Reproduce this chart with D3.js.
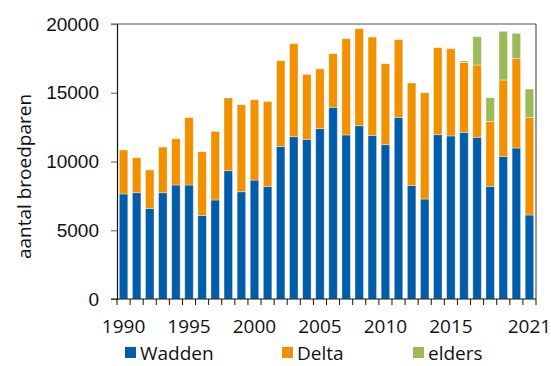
<!DOCTYPE html>
<html>
<head>
<meta charset="utf-8">
<script src="https://cdn.jsdelivr.net/npm/d3@7/dist/d3.min.js"></script>
<style>
  html, body { margin: 0; padding: 0; background: #fff; }
  svg { display: block; font-family: "Open Sans", "Noto Sans", sans-serif; }
</style>
</head>
<body>
<svg id="chart" width="551" height="366"></svg>
<script>
// Broedparen per jaar, per gebied
const years = d3.range(1990, 2022);
const wadden = [7640, 7730, 6590, 7730, 8290, 8290, 6080, 7200, 9330, 7800,
                8650, 8190, 11100, 11800, 11610, 12390, 13940, 11930, 12600, 11900,
                11220, 13210, 8260, 7270, 11950, 11860, 12120, 11760, 8190, 10370,
                10980, 6110];
const delta = [3200, 2550, 2790, 3320, 3370, 4900, 4630, 4990, 5290, 6330,
               5840, 6180, 6230, 6770, 4720, 4340, 3900, 7000, 7060, 7150,
               5890, 5650, 7450, 7730, 6330, 6340, 5090, 5260, 4730, 5560,
               6500, 7100];
const elders = [0, 0, 0, 0, 0, 0, 0, 0, 0, 0,
                0, 0, 0, 0, 0, 0, 0, 0, 0, 0,
                0, 0, 0, 0, 0, 0, 100, 2060, 1720, 3540,
                1840, 2060];
const yTicks = [0, 5000, 10000, 15000, 20000];
const xLabels = [1990, 1995, 2000, 2005, 2010, 2015, 2021];
const seriesNames = ["Wadden", "Delta", "elders"];
const colors = ["#015DAA", "#F29100", "#9CBA58"];

const W = 551, H = 366;
const m = { top: 24, right: 15, bottom: 67, left: 117 };
const FS = 19;
const svg = d3.select("#chart");

const rows = years.map((y, i) => ({ year: y, Wadden: wadden[i], Delta: delta[i], elders: elders[i] }));
const stack = d3.stack().keys(seriesNames)(rows);

const x = d3.scaleBand().domain(years).range([m.left, W - m.right]).paddingInner(0.35).paddingOuter(0.175);
const y = d3.scaleLinear().domain([0, 20000]).range([H - m.bottom, m.top]);

// frame: top and right edges
svg.append("line").attr("x1", m.left - 6).attr("x2", W - m.right)
  .attr("y1", y(20000)).attr("y2", y(20000)).attr("stroke", "#555").attr("stroke-width", 1.2);
svg.append("line").attr("x1", W - m.right).attr("x2", W - m.right)
  .attr("y1", y(20000)).attr("y2", y(0)).attr("stroke", "#555").attr("stroke-width", 1.2);

// bars
svg.append("g").selectAll("g").data(stack).join("g")
  .attr("fill", (d, i) => colors[i])
  .selectAll("rect").data(d => d.filter(p => p[1] > p[0])).join("rect")
  .attr("x", d => x(d.data.year))
  .attr("width", x.bandwidth())
  .attr("y", d => y(d[1]))
  .attr("height", d => y(d[0]) - y(d[1]))
  .attr("stroke", "rgba(255,255,255,0.45)")
  .attr("stroke-width", 0.8);

// y axis
const yAxis = svg.append("g").attr("transform", `translate(${m.left},0)`)
  .call(d3.axisLeft(y).tickValues(yTicks).tickSize(6).tickPadding(12).tickFormat(d3.format("d")));
yAxis.select(".domain").attr("stroke", "#111").attr("stroke-width", 1.2);
yAxis.selectAll(".tick line").attr("stroke", "#777").attr("stroke-width", 1.2);
yAxis.selectAll("text").attr("font-size", FS).attr("fill", "#111");

// x axis: ticks on category boundaries
const xg = svg.append("g").attr("transform", `translate(0,${y(0)})`);
xg.append("line").attr("x1", m.left - 6).attr("x2", W - m.right)
  .attr("stroke", "#111").attr("stroke-width", 1.2);
const step = x.step();
const bounds = d3.range(years.length + 1).map(i => m.left + i * step);
xg.selectAll("line.tk").data(bounds).join("line").attr("class", "tk")
  .attr("x1", d => d).attr("x2", d => d).attr("y1", 0).attr("y2", 6)
  .attr("stroke", "#111").attr("stroke-width", 1);
xg.selectAll("text").data(xLabels).join("text")
  .attr("x", d => x(d) + x.bandwidth() / 2)
  .attr("y", 34)
  .attr("text-anchor", "middle")
  .attr("font-size", FS).attr("fill", "#111")
  .text(d => d);

// y axis title
svg.append("text")
  .attr("transform", `translate(31,${(y(0) + y(20000)) / 2 + 15}) rotate(-90)`)
  .attr("text-anchor", "middle")
  .attr("font-size", FS).attr("fill", "#111")
  .text("aantal broedparen");

// legend
const legX = [125, 282, 413];
const leg = svg.append("g").selectAll("g").data(seriesNames).join("g")
  .attr("transform", (d, i) => `translate(${legX[i]},347)`);
leg.append("rect").attr("width", 11).attr("height", 11).attr("fill", (d, i) => colors[i]);
leg.append("text").attr("x", 15).attr("y", 13).attr("font-size", FS).attr("fill", "#111").text(d => d);
</script>
</body>
</html>
